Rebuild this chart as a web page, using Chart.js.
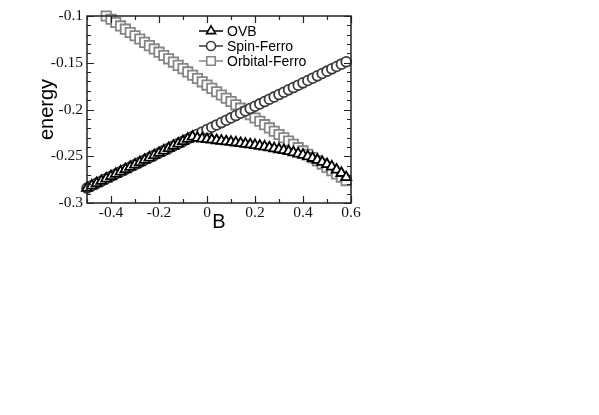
<!DOCTYPE html>
<html>
<head>
<meta charset="utf-8">
<script src="https://cdn.jsdelivr.net/npm/chart.js@4/dist/chart.umd.min.js"></script>
<style>
  html, body { margin: 0; padding: 0; background: #fff; }
  #wrap { width: 599px; height: 415px; }
</style>
</head>
<body>
<div id="wrap"><canvas id="c" width="599" height="415"></canvas></div>
<script>
// ---- data ----
const seriesNames = ["OVB", "Spin-Ferro", "Orbital-Ferro"];
const xValues = [-0.50,-0.48,-0.46,-0.44,-0.42,-0.40,-0.38,-0.36,-0.34,-0.32,-0.30,-0.28,-0.26,-0.24,-0.22,-0.20,-0.18,-0.16,-0.14,-0.12,-0.10,-0.08,-0.06,-0.04,-0.02,0.00,0.02,0.04,0.06,0.08,0.10,0.12,0.14,0.16,0.18,0.20,0.22,0.24,0.26,0.28,0.30,0.32,0.34,0.36,0.38,0.40,0.42,0.44,0.46,0.48,0.50,0.52,0.54,0.56,0.58];
const ovbEnergy = [-0.2840,-0.2815,-0.2790,-0.2765,-0.2740,-0.2715,-0.2690,-0.2665,-0.2640,-0.2615,-0.2590,-0.2565,-0.2540,-0.2515,-0.2490,-0.2465,-0.2440,-0.2415,-0.2390,-0.2365,-0.2340,-0.2315,-0.2292,-0.2305,-0.2312,-0.2318,-0.2324,-0.2330,-0.2336,-0.2342,-0.2348,-0.2354,-0.2361,-0.2368,-0.2375,-0.2382,-0.2390,-0.2398,-0.2407,-0.2416,-0.2426,-0.2436,-0.2447,-0.2459,-0.2472,-0.2486,-0.2502,-0.2520,-0.2540,-0.2562,-0.2586,-0.2612,-0.2645,-0.2680,-0.2725];
const spinFerroEnergy = [-0.2840,-0.2815,-0.2790,-0.2765,-0.2740,-0.2715,-0.2690,-0.2665,-0.2640,-0.2615,-0.2590,-0.2565,-0.2540,-0.2515,-0.2490,-0.2465,-0.2440,-0.2415,-0.2390,-0.2365,-0.2340,-0.2315,-0.2290,-0.2265,-0.2240,-0.2215,-0.2190,-0.2165,-0.2140,-0.2115,-0.2090,-0.2065,-0.2040,-0.2015,-0.1990,-0.1965,-0.1940,-0.1915,-0.1890,-0.1865,-0.1840,-0.1815,-0.1790,-0.1765,-0.1740,-0.1715,-0.1690,-0.1665,-0.1640,-0.1615,-0.1590,-0.1565,-0.1540,-0.1515,-0.1490];
const xOrbital = [-0.42,-0.40,-0.38,-0.36,-0.34,-0.32,-0.30,-0.28,-0.26,-0.24,-0.22,-0.20,-0.18,-0.16,-0.14,-0.12,-0.10,-0.08,-0.06,-0.04,-0.02,0.00,0.02,0.04,0.06,0.08,0.10,0.12,0.14,0.16,0.18,0.20,0.22,0.24,0.26,0.28,0.30,0.32,0.34,0.36,0.38,0.40,0.42,0.44,0.46,0.48,0.50,0.52,0.54,0.56,0.58];
const orbitalFerroEnergy = [-0.1000,-0.1035,-0.1070,-0.1106,-0.1141,-0.1176,-0.1211,-0.1246,-0.1282,-0.1317,-0.1352,-0.1387,-0.1422,-0.1458,-0.1493,-0.1528,-0.1563,-0.1598,-0.1634,-0.1669,-0.1704,-0.1739,-0.1774,-0.1810,-0.1845,-0.1880,-0.1915,-0.1950,-0.1986,-0.2021,-0.2056,-0.2091,-0.2126,-0.2162,-0.2197,-0.2232,-0.2267,-0.2302,-0.2338,-0.2373,-0.2408,-0.2443,-0.2478,-0.2514,-0.2549,-0.2584,-0.2619,-0.2654,-0.2690,-0.2725,-0.2760];
const xTicks = [-0.4, -0.2, 0, 0.2, 0.4, 0.6];
const xTickLabels = ["-0.4", "-0.2", "0", "0.2", "0.4", "0.6"];
const xMinorTicks = [-0.5, -0.3, -0.1, 0.1, 0.3, 0.5];
const yTicks = [-0.3, -0.25, -0.2, -0.15, -0.1];
const yTickLabels = ["-0.3", "-0.25", "-0.2", "-0.15", "-0.1"];
const yMinorTicks = [-0.29,-0.28,-0.27,-0.26,-0.24,-0.23,-0.22,-0.21,-0.19,-0.18,-0.17,-0.16,-0.14,-0.13,-0.12,-0.11];

// ---- styles ----
const colors = ["#000000", "#3a3a3a", "#858585"];
const styles = ["triangle", "circle", "rect"];
const radii = [5.8, 4.9, 6.6];
const legendRadii = [5.2, 4.5, 6.0];

function pts(xs, ys) { return xs.map((x, i) => ({ x: x, y: ys[i] })); }

const datasets = [
  { label: seriesNames[0], data: pts(xValues, ovbEnergy), order: 0 },
  { label: seriesNames[1], data: pts(xValues, spinFerroEnergy), order: 1 },
  { label: seriesNames[2], data: pts(xOrbital, orbitalFerroEnergy), order: 2 }
].map((d, i) => Object.assign(d, {
  showLine: true,
  borderColor: colors[i],
  borderWidth: 1.5,
  pointStyle: styles[i],
  pointRadius: radii[i],
  pointBorderWidth: 1.8,
  pointBorderColor: colors[i],
  pointBackgroundColor: "#ffffff",
  clip: false
}));

const frameTicks = {
  id: "frameTicks",
  afterDraw(chart) {
    const ctx = chart.ctx, a = chart.chartArea;
    const xs = chart.scales.x, ys = chart.scales.y;
    ctx.save();
    ctx.strokeStyle = "#222";
    ctx.lineWidth = 1.5;
    ctx.strokeRect(a.left, a.top, a.right - a.left, a.bottom - a.top);
    ctx.lineWidth = 1.2;
    ctx.beginPath();
    const xt = (v, len) => {
      const p = Math.round(xs.getPixelForValue(v)) + 0.5;
      ctx.moveTo(p, a.bottom); ctx.lineTo(p, a.bottom - len);
      ctx.moveTo(p, a.top); ctx.lineTo(p, a.top + len);
    };
    const yt = (v, len) => {
      const p = Math.round(ys.getPixelForValue(v)) + 0.5;
      ctx.moveTo(a.left, p); ctx.lineTo(a.left + len, p);
      ctx.moveTo(a.right, p); ctx.lineTo(a.right - len, p);
    };
    xTicks.forEach(v => xt(v, 7));
    xMinorTicks.forEach(v => xt(v, 4));
    yTicks.forEach(v => yt(v, 7));
    yMinorTicks.forEach(v => yt(v, 4));
    ctx.stroke();

    // legend
    const lx0 = 199, lx1 = 223, tx = 227;
    const rows = [31, 46, 61];
    ctx.font = "14px 'Liberation Sans', Arial, sans-serif";
    ctx.textBaseline = "middle";
    ctx.textAlign = "left";
    rows.forEach((y, i) => {
      ctx.strokeStyle = colors[i];
      ctx.lineWidth = 1.5;
      ctx.beginPath(); ctx.moveTo(lx0, y); ctx.lineTo(lx1, y); ctx.stroke();
      ctx.fillStyle = "#ffffff";
      ctx.lineWidth = 1.6;
      Chart.helpers.drawPoint(ctx, { pointStyle: styles[i], radius: legendRadii[i], borderWidth: 1.6 }, (lx0 + lx1) / 2, y);
      ctx.fillStyle = "#000";
      ctx.fillText(seriesNames[i], tx, y + 1);
    });
    ctx.restore();
  }
};

new Chart(document.getElementById("c"), {
  type: "scatter",
  data: { datasets: datasets },
  options: {
    responsive: false,
    animation: false,
    events: [],
    layout: { padding: { left: 0, top: 16, right: 248, bottom: 172 } },
    plugins: { legend: { display: false }, tooltip: { enabled: false } },
    scales: {
      x: {
        type: "linear", min: -0.5, max: 0.6,
        grid: { display: false, drawTicks: false },
        border: { display: false },
        afterBuildTicks: s => { s.ticks = xTicks.map(v => ({ value: v })); },
        afterFit: s => { s.height = 40; },
        ticks: {
          padding: 1, color: "#111",
          font: { family: "'Liberation Serif', 'Times New Roman', serif", size: 15.5 },
          callback: (v) => { const i = xTicks.findIndex(t => Math.abs(t - v) < 1e-9); return i >= 0 ? xTickLabels[i] : ""; }
        },
        title: { display: true, text: "B", color: "#000", padding: { top: 0, bottom: 9 },
          font: { family: "'Liberation Sans', Arial, sans-serif", size: 20 } }
      },
      y: {
        type: "linear", min: -0.3, max: -0.1,
        grid: { display: false, drawTicks: false },
        border: { display: false },
        afterBuildTicks: s => { s.ticks = yTicks.map(v => ({ value: v })); },
        afterFit: s => { s.width = 87; },
        ticks: {
          padding: 4, color: "#111",
          font: { family: "'Liberation Serif', 'Times New Roman', serif", size: 15.5 },
          callback: (v) => { const i = yTicks.findIndex(t => Math.abs(t - v) < 1e-9); return i >= 0 ? yTickLabels[i] : ""; }
        },
        title: { display: true, text: "energy", color: "#000", padding: { top: 35, bottom: 0 },
          font: { family: "'Liberation Sans', Arial, sans-serif", size: 20 } }
      }
    }
  },
  plugins: [frameTicks]
});
</script>
</body>
</html>
